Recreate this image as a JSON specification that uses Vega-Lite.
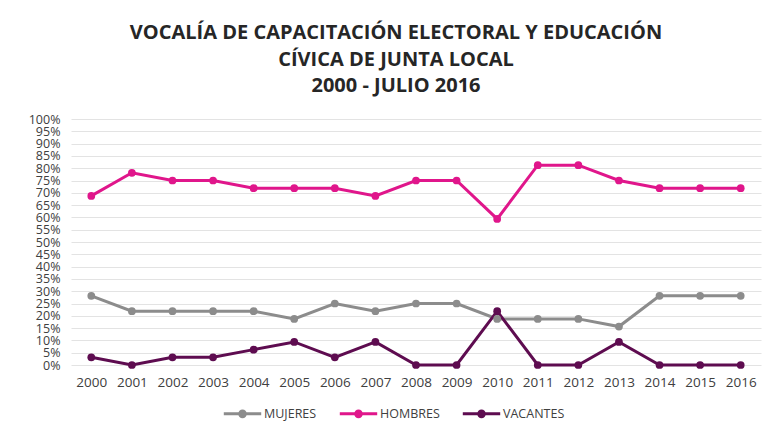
{
  "$schema": "https://vega.github.io/schema/vega-lite/v6.json",
  "width": 771,
  "height": 433,
  "autosize": {"type": "fit", "contains": "padding"},
  "padding": {"left": 28, "right": 10, "top": 23, "bottom": 44},
  "background": "white",
  "title": {
    "text": ["VOCALÍA DE CAPACITACIÓN ELECTORAL Y EDUCACIÓN", "CÍVICA DE JUNTA LOCAL", "2000 - JULIO 2016"],
    "font": "Open Sans",
    "fontSize": 20,
    "fontWeight": "bold",
    "color": "#262626",
    "lineHeight": 26.5,
    "anchor": "middle",
    "dx": -20,
    "offset": 17
  },
  "data": {
    "values": [
      {"year": "2000", "serie": "MUJERES", "value": 0.28125},
      {"year": "2001", "serie": "MUJERES", "value": 0.21875},
      {"year": "2002", "serie": "MUJERES", "value": 0.21875},
      {"year": "2003", "serie": "MUJERES", "value": 0.21875},
      {"year": "2004", "serie": "MUJERES", "value": 0.21875},
      {"year": "2005", "serie": "MUJERES", "value": 0.1875},
      {"year": "2006", "serie": "MUJERES", "value": 0.25},
      {"year": "2007", "serie": "MUJERES", "value": 0.21875},
      {"year": "2008", "serie": "MUJERES", "value": 0.25},
      {"year": "2009", "serie": "MUJERES", "value": 0.25},
      {"year": "2010", "serie": "MUJERES", "value": 0.1875},
      {"year": "2011", "serie": "MUJERES", "value": 0.1875},
      {"year": "2012", "serie": "MUJERES", "value": 0.1875},
      {"year": "2013", "serie": "MUJERES", "value": 0.15625},
      {"year": "2014", "serie": "MUJERES", "value": 0.28125},
      {"year": "2015", "serie": "MUJERES", "value": 0.28125},
      {"year": "2016", "serie": "MUJERES", "value": 0.28125},
      {"year": "2000", "serie": "HOMBRES", "value": 0.6875},
      {"year": "2001", "serie": "HOMBRES", "value": 0.78125},
      {"year": "2002", "serie": "HOMBRES", "value": 0.75},
      {"year": "2003", "serie": "HOMBRES", "value": 0.75},
      {"year": "2004", "serie": "HOMBRES", "value": 0.71875},
      {"year": "2005", "serie": "HOMBRES", "value": 0.71875},
      {"year": "2006", "serie": "HOMBRES", "value": 0.71875},
      {"year": "2007", "serie": "HOMBRES", "value": 0.6875},
      {"year": "2008", "serie": "HOMBRES", "value": 0.75},
      {"year": "2009", "serie": "HOMBRES", "value": 0.75},
      {"year": "2010", "serie": "HOMBRES", "value": 0.59375},
      {"year": "2011", "serie": "HOMBRES", "value": 0.8125},
      {"year": "2012", "serie": "HOMBRES", "value": 0.8125},
      {"year": "2013", "serie": "HOMBRES", "value": 0.75},
      {"year": "2014", "serie": "HOMBRES", "value": 0.71875},
      {"year": "2015", "serie": "HOMBRES", "value": 0.71875},
      {"year": "2016", "serie": "HOMBRES", "value": 0.71875},
      {"year": "2000", "serie": "VACANTES", "value": 0.03125},
      {"year": "2001", "serie": "VACANTES", "value": 0.0},
      {"year": "2002", "serie": "VACANTES", "value": 0.03125},
      {"year": "2003", "serie": "VACANTES", "value": 0.03125},
      {"year": "2004", "serie": "VACANTES", "value": 0.0625},
      {"year": "2005", "serie": "VACANTES", "value": 0.09375},
      {"year": "2006", "serie": "VACANTES", "value": 0.03125},
      {"year": "2007", "serie": "VACANTES", "value": 0.09375},
      {"year": "2008", "serie": "VACANTES", "value": 0.0},
      {"year": "2009", "serie": "VACANTES", "value": 0.0},
      {"year": "2010", "serie": "VACANTES", "value": 0.21875},
      {"year": "2011", "serie": "VACANTES", "value": 0.0},
      {"year": "2012", "serie": "VACANTES", "value": 0.0},
      {"year": "2013", "serie": "VACANTES", "value": 0.09375},
      {"year": "2014", "serie": "VACANTES", "value": 0.0},
      {"year": "2015", "serie": "VACANTES", "value": 0.0},
      {"year": "2016", "serie": "VACANTES", "value": 0.0}
    ]
  },
  "mark": {"type": "line", "strokeWidth": 3, "point": {"size": 60, "filled": true}},
  "encoding": {
    "x": {
      "field": "year",
      "type": "ordinal",
      "scale": {"type": "point", "padding": 0.5},
      "axis": {"title": null, "labelAngle": 0, "ticks": false, "domain": false, "labelFont": "Open Sans", "labelFontSize": 13.5, "labelColor": "#404040", "labelPadding": 10, "grid": false}
    },
    "y": {
      "field": "value",
      "type": "quantitative",
      "scale": {"domain": [0, 1], "nice": false},
      "axis": {
        "title": null,
        "values": [0, 0.05, 0.1, 0.15, 0.2, 0.25, 0.3, 0.35, 0.4, 0.45, 0.5, 0.55, 0.6, 0.65, 0.7, 0.75, 0.8, 0.85, 0.9, 0.95, 1],
        "format": ".0%",
        "ticks": false,
        "domain": false,
        "grid": true,
        "gridColor": "#e3e3e3",
        "gridWidth": 1.2,
        "labelFont": "Open Sans",
        "labelFontSize": 12.5,
        "labelColor": "#404040",
        "labelPadding": 11,
        "labelOverlap": false
      }
    },
    "color": {
      "field": "serie",
      "type": "nominal",
      "scale": {"domain": ["MUJERES", "HOMBRES", "VACANTES"], "range": ["#8c8c8c", "#e0168b", "#5e0c50"]},
      "legend": {
        "title": null,
        "orient": "none",
        "legendX": 151,
        "legendY": 274,
        "direction": "horizontal",
        "symbolType": "M-1,0H1M-0.15,0A0.15,0.15 0 1,0 0.15,0A0.15,0.15 0 1,0 -0.15,0Z",
        "symbolStrokeWidth": 3,
        "symbolSize": 1400,
        "labelFont": "Open Sans",
        "labelFontSize": 12.5,
        "labelColor": "#404040",
        "labelOffset": 1,
        "columnPadding": 16,
        "encode": {"symbols": {"update": {"fill": {"scale": "color", "field": "value"}}}}
      }
    }
  },
  "config": {"view": {"stroke": null}}
}
